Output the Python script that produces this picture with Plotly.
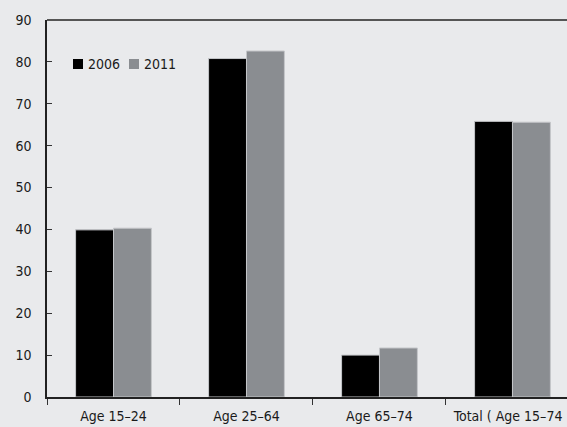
import plotly.graph_objects as go

categories = ["Age 15–24", "Age 25–64", "Age 65–74", "Total ( Age 15–74 )"]
values_2006 = [39.9, 80.8, 10.0, 65.8]
values_2011 = [40.3, 82.6, 11.7, 65.6]
series_names = ["2006", "2011"]
series_colors = ["#000000", "#8a8d91"]
y_ticks = [0, 10, 20, 30, 40, 50, 60, 70, 80, 90]

BG = "#e9eaec"
FONT = "DejaVu Sans Condensed, Liberation Sans Narrow, Arial Narrow, sans-serif"

fig = go.Figure()
for name, vals, col in zip(series_names, [values_2006, values_2011], series_colors):
    fig.add_trace(go.Bar(x=categories, y=vals, name=name, showlegend=False,
                         marker=dict(color=col, line=dict(color="#c4c6c9", width=1))))

fig.update_layout(
    width=567, height=427,
    margin=dict(l=47, r=0, t=20, b=30, autoexpand=False),
    paper_bgcolor=BG, plot_bgcolor=BG,
    barmode="group", bargap=0.43, bargroupgap=0,
    font=dict(family=FONT, size=14, color="#1a1a1a"),
)
fig.update_xaxes(
    type="category", range=[-0.5, 3.41], tickangle=0, automargin=False,
    showline=True, linecolor="#222222", linewidth=1.5,
    ticks="outside", tickson="boundaries", ticklen=6, tickcolor="#333333", tickwidth=1,
    showgrid=False, fixedrange=True, ticklabelstandoff=5,
)
fig.update_yaxes(
    range=[0, 90], tickvals=y_ticks, automargin=False,
    showline=True, linecolor="#222222", linewidth=1.5,
    ticks="inside", ticklen=5, tickcolor="#333333", tickwidth=1,
    showgrid=False, zeroline=False, ticklabelstandoff=11,
)
fig.add_shape(type="line", xref="paper", yref="paper", x0=0, x1=1.05, y0=1, y1=1,
              line=dict(color="#555555", width=2))

# legend drawn as swatches + text (compact spacing like the reference)
legend_x = [0.050, 0.1577]
for name, col, lx in zip(series_names, series_colors, legend_x):
    fig.add_shape(type="rect", xref="paper", yref="paper",
                  x0=lx, x1=lx + 0.0192, y0=0.870, y1=0.8966,
                  fillcolor=col, line=dict(width=0))
    fig.add_annotation(xref="paper", yref="paper", x=lx + 0.025, y=0.8833,
                       text=name, showarrow=False, xanchor="left", yanchor="middle",
                       font=dict(size=14, color="#1a1a1a"))

fig.write_html("out.html")
